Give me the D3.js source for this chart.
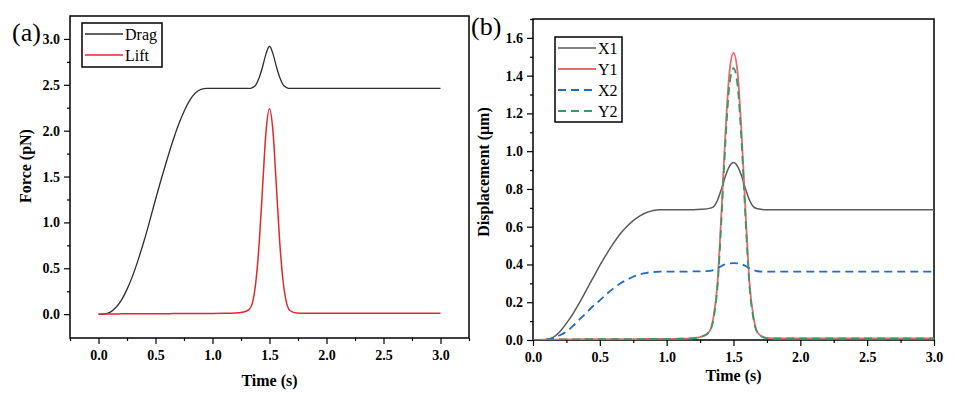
<!DOCTYPE html>
<html>
<head>
<meta charset="utf-8">
<script src="https://cdn.jsdelivr.net/npm/d3@7"></script>
<style>
  body { margin: 0; background: #fff; }
  svg { display: block; }
  .tick text { font-family: "Liberation Serif", "Times New Roman", serif; font-weight: bold; font-size: 14px; fill: #000; }
  .domain { display: none; }
  .tick line { stroke: #000; stroke-width: 1.2; }
</style>
</head>
<body>
<script>
// Screen size.
const WIDTH = 955;
const HEIGHT = 393;

// Shared time samples (s).
const time = [0, 0.05, 0.1, 0.15, 0.2, 0.25, 0.3, 0.35, 0.4, 0.45, 0.5, 0.55, 0.6, 0.65, 0.7, 0.75, 0.8, 0.85, 0.9, 0.95,
  1.0, 1.1, 1.2, 1.26, 1.32, 1.35, 1.38, 1.41, 1.44, 1.47, 1.5, 1.53, 1.56, 1.59, 1.62, 1.65, 1.68, 1.74, 1.8, 2.0, 2.5, 3.0];

// (a) forces, pN
const drag = [0, 0.003, 0.02, 0.07, 0.15, 0.27, 0.42, 0.6, 0.8, 1.02, 1.25, 1.47, 1.68, 1.88, 2.06, 2.21, 2.33, 2.41, 2.45, 2.46,
  2.46, 2.46, 2.46, 2.46, 2.46, 2.47, 2.5, 2.58, 2.7, 2.84, 2.92, 2.84, 2.7, 2.58, 2.5, 2.47, 2.46, 2.46, 2.46, 2.46, 2.46, 2.46];
const lift = [0, 0.001, 0.002, 0.002, 0.003, 0.003, 0.003, 0.004, 0.004, 0.004, 0.005, 0.005, 0.005, 0.006, 0.006, 0.006, 0.007, 0.007, 0.007, 0.008,
  0.008, 0.009, 0.012, 0.02, 0.05, 0.12, 0.35, 0.78, 1.4, 2.0, 2.24, 2.0, 1.4, 0.78, 0.35, 0.12, 0.04, 0.012, 0.01, 0.01, 0.01, 0.01];

// (b) displacements, um
const x1 = [0, 0, 0.003, 0.014, 0.044, 0.088, 0.14, 0.2, 0.265, 0.33, 0.395, 0.455, 0.51, 0.56, 0.6, 0.632, 0.657, 0.675, 0.686, 0.69,
  0.69, 0.69, 0.69, 0.692, 0.697, 0.705, 0.74, 0.8, 0.87, 0.92, 0.94, 0.92, 0.87, 0.8, 0.74, 0.705, 0.695, 0.69, 0.69, 0.69, 0.69, 0.69];
const y1 = [0, 0.001, 0.002, 0.002, 0.003, 0.003, 0.003, 0.004, 0.004, 0.004, 0.004, 0.005, 0.005, 0.005, 0.005, 0.005, 0.005, 0.006, 0.006, 0.006,
  0.006, 0.007, 0.01, 0.018, 0.045, 0.12, 0.3, 0.68, 1.1, 1.42, 1.52, 1.42, 1.1, 0.68, 0.3, 0.12, 0.04, 0.012, 0.008, 0.008, 0.008, 0.008];
const x2 = [0, 0, 0.002, 0.01, 0.025, 0.045, 0.075, 0.11, 0.145, 0.18, 0.21, 0.243, 0.272, 0.298, 0.318, 0.335, 0.348, 0.356, 0.36, 0.362,
  0.362, 0.362, 0.363, 0.364, 0.366, 0.37, 0.38, 0.392, 0.402, 0.406, 0.407, 0.406, 0.402, 0.392, 0.38, 0.37, 0.364, 0.362, 0.362, 0.362, 0.362, 0.362];
const y2 = [0, 0.001, 0.002, 0.002, 0.003, 0.003, 0.003, 0.004, 0.004, 0.004, 0.004, 0.005, 0.005, 0.005, 0.005, 0.005, 0.005, 0.006, 0.006, 0.006,
  0.006, 0.007, 0.01, 0.017, 0.043, 0.11, 0.28, 0.64, 1.05, 1.35, 1.44, 1.35, 1.05, 0.64, 0.28, 0.11, 0.038, 0.011, 0.008, 0.008, 0.008, 0.008];

// Tick values
const forceTicks = [0, 0.5, 1.0, 1.5, 2.0, 2.5, 3.0];
const dispTicks = [0, 0.2, 0.4, 0.6, 0.8, 1.0, 1.2, 1.4, 1.6];
const timeTicks = [0, 0.5, 1.0, 1.5, 2.0, 2.5, 3.0];

const svg = d3.select("body").append("svg").attr("width", WIDTH).attr("height", HEIGHT);

function drawPanel(p) {
  const x = d3.scaleLinear().domain(p.xDomain).range([p.left, p.right]);
  const y = d3.scaleLinear().domain(p.yDomain).range([p.bottom, p.top]);
  const g = svg.append("g");

  // minor ticks
  g.append("g").attr("transform", `translate(0,${p.bottom})`)
    .call(d3.axisBottom(x).tickValues(p.xMinor).tickSize(3).tickFormat(""));
  g.append("g").attr("transform", `translate(${p.left},0)`)
    .call(d3.axisLeft(y).tickValues(p.yMinor).tickSize(3).tickFormat(""));

  // major ticks
  g.append("g").attr("transform", `translate(0,${p.bottom})`)
    .call(d3.axisBottom(x).tickValues(timeTicks).tickSize(6).tickPadding(6).tickFormat(d3.format(".1f")));
  g.append("g").attr("transform", `translate(${p.left},0)`)
    .call(d3.axisLeft(y).tickValues(p.yTicks).tickSize(6).tickPadding(4).tickFormat(d3.format(".1f")));

  // frame
  g.append("rect")
    .attr("x", p.left).attr("y", p.top)
    .attr("width", p.right - p.left).attr("height", p.bottom - p.top)
    .attr("fill", "none").attr("stroke", "#000").attr("stroke-width", 1.5);

  const clipId = "clip" + p.name;
  svg.append("clipPath").attr("id", clipId).append("rect")
    .attr("x", p.left).attr("y", p.top).attr("width", p.right - p.left).attr("height", p.bottom - p.top);

  const line = d3.line().x((d, i) => x(time[i])).y(d => y(d)).curve(d3.curveMonotoneX);
  p.series.forEach(s => {
    g.append("path").attr("clip-path", `url(#${clipId})`)
      .attr("d", line(s.values))
      .attr("fill", "none")
      .attr("stroke", s.color)
      .attr("stroke-width", s.width)
      .attr("stroke-dasharray", s.dash || null);
  });

  // legend
  const lg = g.append("g");
  lg.append("rect").attr("x", p.legend.x).attr("y", p.legend.y)
    .attr("width", p.legend.w).attr("height", p.legend.h)
    .attr("fill", "#fff").attr("stroke", "#000").attr("stroke-width", 1.5);
  p.series.forEach((s, i) => {
    const ly = p.legend.y + p.legend.first + i * p.legend.step;
    lg.append("line")
      .attr("x1", p.legend.x + 3).attr("x2", p.legend.x + 41)
      .attr("y1", ly).attr("y2", ly)
      .attr("stroke", s.color).attr("stroke-width", s.width)
      .attr("stroke-dasharray", s.dash || null);
    lg.append("text")
      .attr("x", p.legend.x + 43).attr("y", ly + 5.5)
      .style("font-family", "'Liberation Serif', 'Times New Roman', serif")
      .style("font-size", "16px")
      .text(s.name);
  });

  // axis titles
  g.append("text")
    .attr("x", (p.left + p.right) / 2).attr("y", p.xTitleY)
    .attr("text-anchor", "middle")
    .style("font-family", "'Liberation Serif', 'Times New Roman', serif")
    .style("font-weight", "bold").style("font-size", "16px")
    .text("Time (s)");
  g.append("text")
    .attr("transform", `translate(${p.yTitleX},${p.yTitleY}) rotate(-90)`)
    .attr("text-anchor", "middle")
    .style("font-family", "'Liberation Serif', 'Times New Roman', serif")
    .style("font-weight", "bold").style("font-size", "16px")
    .text(p.yTitle);

  // panel letter
  g.append("text")
    .attr("x", p.letterX).attr("y", p.letterY)
    .style("font-family", "'Liberation Serif', 'Times New Roman', serif")
    .style("font-size", "26px")
    .text(p.letter);
}

drawPanel({
  name: "a", letter: "(a)", letterX: 12, letterY: 41,
  left: 70, right: 469, top: 16, bottom: 338,
  xDomain: [-0.25, 3.25], yDomain: [-0.26, 3.25],
  yTicks: forceTicks,
  xMinor: [-0.25, 0.25, 0.75, 1.25, 1.75, 2.25, 2.75, 3.25],
  yMinor: [0.25, 0.75, 1.25, 1.75, 2.25, 2.75],
  xTitleY: 386, yTitleX: 31, yTitleY: 166, yTitle: "Force (pN)",
  legend: { x: 82, y: 23, w: 80, h: 44, first: 11, step: 21 },
  series: [
    { name: "Drag", values: drag, color: "#2e2e2e", width: 1.3 },
    { name: "Lift", values: lift, color: "#e02a2a", width: 1.5 }
  ]
});

drawPanel({
  name: "b", letter: "(b)", letterX: 471, letterY: 35,
  left: 533, right: 934, top: 19, bottom: 340,
  xDomain: [0, 3], yDomain: [0, 1.7],
  yTicks: dispTicks,
  xMinor: [0.25, 0.75, 1.25, 1.75, 2.25, 2.75],
  yMinor: [0.1, 0.3, 0.5, 0.7, 0.9, 1.1, 1.3, 1.5, 1.7],
  xTitleY: 381, yTitleX: 489, yTitleY: 172, yTitle: "Displacement (\u03bcm)",
  legend: { x: 555, y: 37, w: 67, h: 85, first: 11, step: 21 },
  series: [
    { name: "X1", values: x1, color: "#5a5a5a", width: 1.5 },
    { name: "Y1", values: y1, color: "#e8696b", width: 1.8 },
    { name: "X2", values: x2, color: "#1f6cc4", width: 1.8, dash: "8,5" },
    { name: "Y2", values: y2, color: "#3a9a62", width: 1.8, dash: "8,5" }
  ]
});
</script>
</body>
</html>
